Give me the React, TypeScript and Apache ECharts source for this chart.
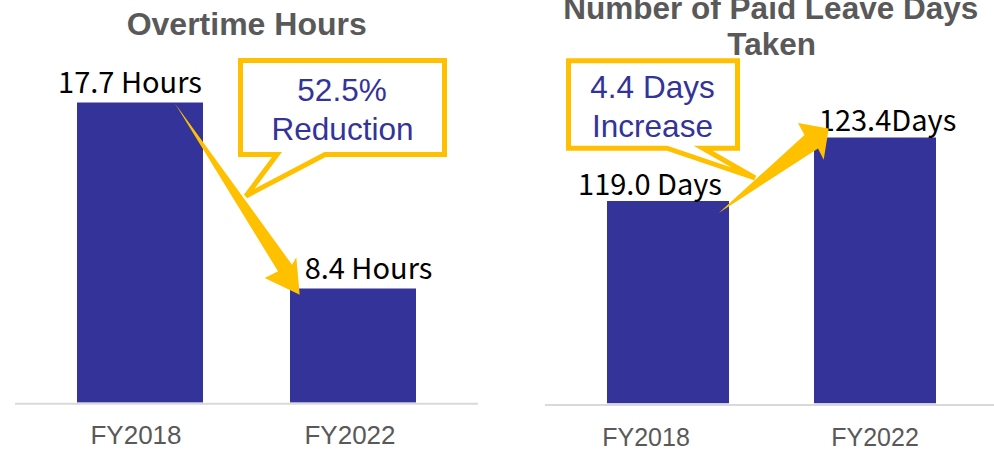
import React, { useEffect, useRef } from "react";
import * as echarts from "echarts";

const categories = ["FY2018", "FY2022"];
const overtimeHours = [17.7, 8.4];
const paidLeaveDays = [119.0, 123.4];
const overtimeLabels = ["17.7 Hours", "8.4 Hours"];
const leaveLabels = ["119.0 Days", "123.4Days"];
const titleLeft = "Overtime Hours";
const titleRightLines = ["Number of Paid Leave Days", "Taken"];
const calloutLeft = ["52.5%", "Reduction"];
const calloutRight = ["4.4 Days", "Increase"];

const BAR = "#333399";
const GOLD = "#FFC000";
const GRAY = "#595959";
const SANS = "'Liberation Sans', Arial, sans-serif";
const JP = "'Noto Sans CJK JP', sans-serif";

function textEl(text: string, x: number, y: number, font: string, fill: string, z = 30) {
  return {
    type: "text",
    x,
    y,
    z,
    style: { text, font, fill, align: "center", verticalAlign: "middle" },
  };
}

export default function App() {
  const ref = useRef<HTMLDivElement>(null);

  useEffect(() => {
    if (!ref.current) return;
    const chart = echarts.init(ref.current, undefined, { renderer: "svg" });

    const catLabel = (shifts: number[], margin: number, size: number) => ({
      margin,
      interval: 0,
      formatter: (v: string, i: number) => `{c${i}|${v}}`,
      rich: Object.fromEntries(
        shifts.map((s, i) => [
          `c${i}`,
          {
            fontSize: size,
            lineHeight: 20,
            fontFamily: SANS,
            color: GRAY,
            padding: s < 0 ? [0, -2 * s, 0, 0] : [0, 0, 0, 2 * s],
          },
        ])
      ),
    });

    const option: any = {
      animation: false,
      grid: [
        { left: 33.5, top: 96.5, width: 426, height: 306 },
        { left: 564.5, top: 114.3, width: 414, height: 289 },
      ],
      xAxis: [
        {
          type: "category",
          gridIndex: 0,
          data: categories,
          axisLine: { show: false },
          axisTick: { show: false },
          axisLabel: catLabel([-4, -3], 22.5, 26),
        },
        {
          type: "category",
          gridIndex: 1,
          data: categories,
          axisLine: { show: false },
          axisTick: { show: false },
          axisLabel: catLabel([-22, 0], 23.5, 25),
        },
      ],
      yAxis: [
        { type: "value", gridIndex: 0, min: 2.7, max: 18, show: false, splitLine: { show: false } },
        { type: "value", gridIndex: 1, min: 105, max: 125, show: false, splitLine: { show: false } },
      ],
      series: [
        {
          type: "bar",
          xAxisIndex: 0,
          yAxisIndex: 0,
          barWidth: 126,
          itemStyle: { color: BAR },
          label: {
            show: true,
            position: "top",
            distance: 8.5,
            fontSize: 29,
            fontFamily: JP,
            color: "#000",
            formatter: (p: any) => overtimeLabels[p.dataIndex],
          },
          data: overtimeHours.map((v, i) => ({
            value: v,
            label: { offset: i === 0 ? [-10, 0] : [15.5, 0] },
          })),
        },
        {
          type: "bar",
          xAxisIndex: 1,
          yAxisIndex: 1,
          barWidth: 122,
          itemStyle: { color: BAR },
          label: {
            show: true,
            position: "top",
            distance: 8.5,
            fontSize: 29,
            fontFamily: JP,
            color: "#000",
            formatter: (p: any) => leaveLabels[p.dataIndex],
          },
          data: paidLeaveDays.map((v, i) => ({
            value: v,
            label: { offset: i === 0 ? [-18, 4.2] : [12.5, 3.6] },
          })),
        },
      ],
      graphic: [
        textEl(titleLeft, 246.7, 24, `bold 32px ${SANS}`, GRAY),
        textEl(titleRightLines[0], 770.8, 7.5, `bold 31.5px ${SANS}`, GRAY),
        textEl(titleRightLines[1], 771.7, 44, `bold 31.5px ${SANS}`, GRAY),
        {
          type: "line",
          z: 5,
          shape: { x1: 15, y1: 403.7, x2: 478, y2: 403.7 },
          style: { stroke: "#D9D9D9", lineWidth: 2 },
        },
        {
          type: "line",
          z: 5,
          shape: { x1: 545, y1: 405, x2: 994, y2: 405 },
          style: { stroke: "#D9D9D9", lineWidth: 2 },
        },
        {
          type: "polygon",
          z: 20,
          shape: {
            points: [
              [240.5, 60.5],
              [444.5, 60.5],
              [444.5, 154.5],
              [325, 154.5],
              [246, 196],
              [277, 154.5],
              [240.5, 154.5],
            ],
          },
          style: { fill: "#fff", stroke: GOLD, lineWidth: 5, lineJoin: "miter" },
        },
        {
          type: "polygon",
          z: 20,
          shape: {
            points: [
              [568.5, 60.8],
              [737.5, 60.8],
              [737.5, 148.2],
              [703, 148.2],
              [755, 178],
              [667, 148.2],
              [568.5, 148.2],
            ],
          },
          style: { fill: "#fff", stroke: GOLD, lineWidth: 5, lineJoin: "miter" },
        },
        textEl(calloutLeft[0], 342, 90, `31.5px ${SANS}`, BAR, 25),
        textEl(calloutLeft[1], 342.5, 128.8, `31.5px ${SANS}`, BAR, 25),
        textEl(calloutRight[0], 652.5, 86.7, `31.5px ${SANS}`, BAR, 25),
        textEl(calloutRight[1], 652.5, 125.5, `31.5px ${SANS}`, BAR, 25),
        {
          type: "polygon",
          z: 40,
          shape: {
            points: [
              [175, 103.5],
              [292, 264.7],
              [296.3, 257.3],
              [299.7, 294.7],
              [264.7, 278],
              [278, 271.3],
            ],
          },
          style: { fill: GOLD },
        },
        {
          type: "polygon",
          z: 40,
          shape: {
            points: [
              [718.7, 213],
              [804.5, 135],
              [798, 123],
              [828.7, 128.5],
              [823.7, 159.7],
              [818, 148.5],
            ],
          },
          style: { fill: GOLD },
        },
      ],
    };

    chart.setOption(option);
    return () => chart.dispose();
  }, []);

  return (
    <div
      ref={ref}
      style={{ position: "fixed", left: 0, top: 0, width: 994, height: 450, background: "#fff" }}
    />
  );
}
